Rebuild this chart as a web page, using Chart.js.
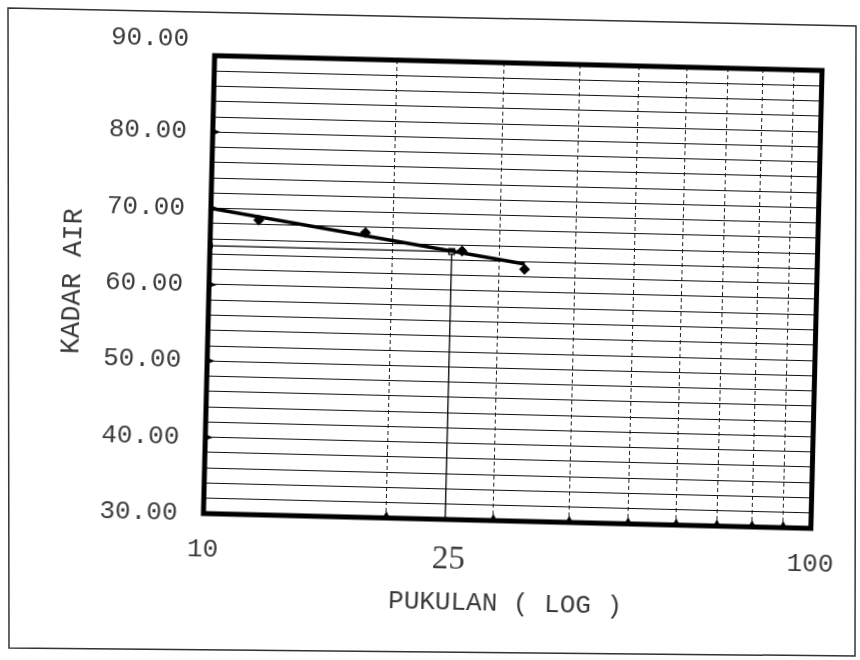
<!DOCTYPE html>
<html>
<head>
<meta charset="utf-8">
<script src="https://cdn.jsdelivr.net/npm/chart.js@4/dist/chart.umd.min.js"></script>
<style>
  html, body { margin: 0; padding: 0; background: #fff; overflow: hidden; }
  #wrap { position: absolute; left: 0; top: 0; width: 860px; height: 660px; transform: rotate(1.4deg); transform-origin: 430px 330px; }
  #frame { position: absolute; left: 0; top: 0; width: 860px; height: 660px; pointer-events: none; }
</style>
</head>
<body>
<div id="wrap"><canvas id="c" width="860" height="660"></canvas></div>
<svg id="frame" width="860" height="660"><polygon points="8,8 856,26 855,656 9,648" fill="none" stroke="#333" stroke-width="1.5"/></svg>
<script>
// ---- data ----
const blowsX   = [12, 18, 26, 33];          // PUKULAN (jumlah pukulan)
const waterY   = [68.6, 67.3, 65.2, 63.0];  // KADAR AIR (%)
const trendX   = [10, 33];
const trendY   = [70.0, 63.7];
const llBlows  = 25;                         // 25 pukulan
const llValue  = 65.1;                       // kadar air pada 25 pukulan
const yMin = 30, yMax = 90, yStep = 2;
const xGridValues  = [10, 20, 25, 30, 40, 50, 60, 70, 80, 90, 100];
const xLabelValues = [10, 25, 100];
const yLabelEvery  = 10;

const monoFont = { family: '"Liberation Mono", "DejaVu Sans Mono", monospace', size: 26 };
const serifFont = { family: '"Liberation Serif", "DejaVu Serif", serif', size: 33 };
const textColor = '#3a3a3a';

const framePlugin = {
  id: 'frame',
  afterDatasetsDraw(chart) {
    const { ctx, chartArea: a, scales } = chart;
    ctx.save();
    ctx.fillStyle = '#000';
    // small ticks on the bottom border
    xGridValues.forEach(v => {
      if (v === 10 || v === 100 || v === llBlows) return;
      const px = scales.x.getPixelForValue(v);
      ctx.beginPath();
      ctx.moveTo(px - 3.5, a.bottom);
      ctx.lineTo(px, a.bottom - 7);
      ctx.lineTo(px + 3.5, a.bottom);
      ctx.closePath();
      ctx.fill();
    });
    // small ticks on the left border
    for (let v = yMin + yLabelEvery; v < yMax; v += yLabelEvery) {
      const py = scales.y.getPixelForValue(v);
      ctx.beginPath();
      ctx.moveTo(a.left, py - 3);
      ctx.lineTo(a.left + 8, py);
      ctx.lineTo(a.left, py + 3);
      ctx.closePath();
      ctx.fill();
    }
    ctx.lineWidth = 5;
    ctx.strokeStyle = '#000';
    ctx.strokeRect(a.left, a.top, a.right - a.left, a.bottom - a.top);
    ctx.restore();
  }
};

new Chart(document.getElementById('c'), {
  type: 'scatter',
  data: {
    datasets: [
      {
        label: 'Garis',
        data: trendX.map((x, i) => ({ x, y: trendY[i] })),
        showLine: true, borderColor: '#000', borderWidth: 3.5, pointRadius: 0
      },
      {
        label: 'Data',
        data: blowsX.map((x, i) => ({ x, y: waterY[i] })),
        showLine: false, pointStyle: 'rectRot', pointRadius: 5,
        backgroundColor: '#000', borderColor: '#000'
      },
      {
        label: 'LL',
        data: [{ x: 10, y: llValue }, { x: llBlows, y: llValue }, { x: llBlows, y: yMin }],
        showLine: true, borderColor: '#000', borderWidth: 1.3,
        pointStyle: 'rect', pointRadius: [3, 4, 0], backgroundColor: '#fff', pointBorderWidth: 1.3
      }
    ]
  },
  options: {
    responsive: false,
    animation: false,
    layout: { padding: { left: 52, top: 61, right: 44, bottom: 42 } },
    plugins: { legend: { display: false }, tooltip: { enabled: false } },
    scales: {
      x: {
        type: 'logarithmic', min: 10, max: 100,
        afterBuildTicks: s => { s.ticks = xGridValues.map(v => ({ value: v })); },
        afterFit: s => { s.height = 99; },
        border: { display: false, dash: [4, 3] },
        grid: {
          drawTicks: false, lineWidth: 1,
          color: c => (c.tick && (c.tick.value === llBlows || c.tick.value === 10 || c.tick.value === 100)) ? 'rgba(0,0,0,0)' : '#222'
        },
        ticks: {
          autoSkip: false, maxRotation: 0, minRotation: 0, padding: 21, color: textColor,
          callback: v => v === llBlows ? ' 25' : (xLabelValues.includes(v) ? String(v) : ''),
          font: c => (c.tick && c.tick.value === llBlows) ? serifFont : monoFont
        },
        title: { display: true, text: 'PUKULAN ( LOG )', color: textColor, font: { family: monoFont.family, size: 26 }, padding: { top: 0, bottom: 0 } }
      },
      y: {
        min: yMin, max: yMax,
        afterFit: s => { s.width = 156; },
        border: { display: false },
        grid: { drawTicks: false, lineWidth: 1.1, color: '#111' },
        ticks: {
          stepSize: yStep, autoSkip: false, padding: 26, color: textColor, font: monoFont,
          callback: v => (v === yMax) ? [v.toFixed(2), ''] : ((v % yLabelEvery === 0) ? v.toFixed(2) : '')
        },
        title: { display: true, text: 'KADAR AIR', color: textColor, font: { family: monoFont.family, size: 27 }, padding: { top: 4, bottom: 4 } }
      }
    }
  },
  plugins: [framePlugin]
});
</script>
</body>
</html>
